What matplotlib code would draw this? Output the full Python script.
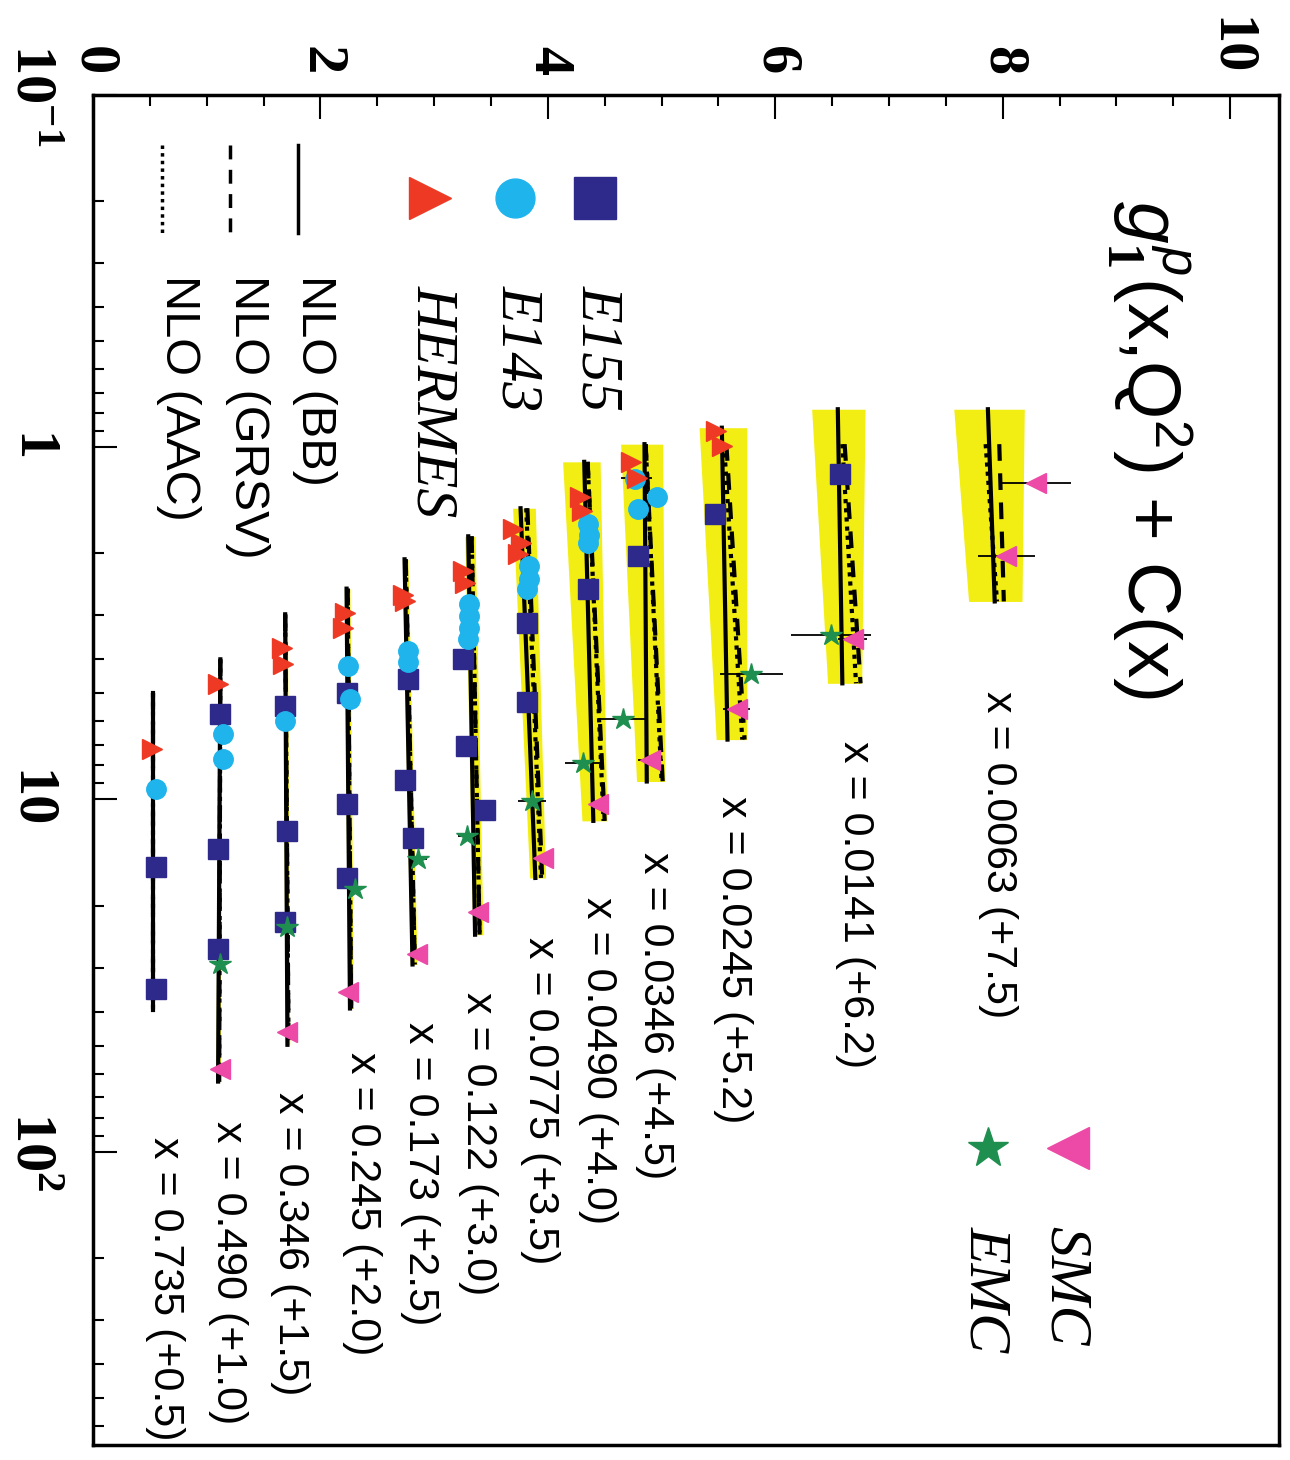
import matplotlib
matplotlib.use("Agg")
import matplotlib.pyplot as plt
from matplotlib.ticker import FixedLocator, LogLocator, MultipleLocator, NullFormatter

plt.rcParams.update({
    "mathtext.fontset": "custom",
    "mathtext.rm": "Liberation Serif:bold",
    "mathtext.bf": "Liberation Serif:bold",
    "mathtext.it": "Liberation Sans:italic",
    "mathtext.sf": "Liberation Sans",
})

SANS = "Liberation Sans"
SERIF = "Liberation Serif"
ROT = -90          # the figure is laid out sideways
YELLOW = "#f2ee14"

# ---------------------------------------------------------------- x bins
x_text = ["0.0063", "0.0141", "0.0245", "0.0346", "0.0490", "0.0775",
          "0.122", "0.173", "0.245", "0.346", "0.490", "0.735"]
offsets = [7.5, 6.2, 5.2, 4.5, 4.0, 3.5, 3.0, 2.5, 2.0, 1.5, 1.0, 0.5]

# ---------------------------------------------------------------- NLO curves (g1 without offset)
bb_q2 = [[0.78, 2.74], [0.78, 4.68], [0.88, 6.76], [0.98, 8.89], [1.10, 11.5], [1.49, 16.7],
         [1.79, 24.2], [2.08, 29.4], [2.52, 39.2], [2.98, 49.7], [4.0, 63.2], [5.0, 39.5]]
bb_g1 = [[0.37, 0.43], [0.35, 0.39], [0.33, 0.38], [0.35, 0.37], [0.32, 0.40], [0.26, 0.39],
         [0.30, 0.36], [0.24, 0.31], [0.23, 0.26], [0.19, 0.21], [0.12, 0.10], [0.03, 0.03]]

nlo_q2 = [[0.98, 2.74], [0.98, 4.68], [0.98, 6.76], [0.98, 8.89], [1.10, 11.5], [1.49, 16.7],
          [1.79, 24.2], [2.08, 29.4], [2.52, 39.2], [2.98, 49.7], [4.0, 63.2], [5.0, 39.5]]
grsv_g1 = [[0.47, 0.51], [0.41, 0.55], [0.37, 0.53], [0.36, 0.51], [0.35, 0.50], [0.32, 0.45],
           [0.33, 0.40], [0.25, 0.33], [0.24, 0.27], [0.19, 0.22], [0.12, 0.11], [0.03, 0.03]]
aac_g1 = [[0.35, 0.45], [0.39, 0.51], [0.35, 0.51], [0.36, 0.50], [0.35, 0.49], [0.31, 0.44],
          [0.33, 0.40], [0.25, 0.33], [0.24, 0.27], [0.19, 0.22], [0.12, 0.11], [0.03, 0.03]]

# uncertainty band of the BB fit
band_lo = [[0.07, 0.20], [0.12, 0.26], [0.13, 0.28], [0.14, 0.28], [0.13, 0.30], [0.19, 0.34],
           [0.27, 0.34], [0.22, 0.29], [0.21, 0.24], [0.17, 0.19], [0.10, 0.08], [0.02, 0.02]]
band_hi = [[0.69, 0.67], [0.59, 0.56], [0.55, 0.55], [0.51, 0.53], [0.46, 0.52], [0.39, 0.48],
           [0.36, 0.43], [0.27, 0.35], [0.26, 0.29], [0.21, 0.23], [0.13, 0.12], [0.04, 0.04]]

# ---------------------------------------------------------------- data (bin index, Q2, g1, error)
e155_bin = [1, 2, 3, 4, 5, 5, 6, 6, 6, 7, 7, 7, 8, 8, 8, 9, 9, 9, 10, 10, 10, 11, 11]
e155_q2 = [1.19, 1.55, 2.04, 2.53, 3.16, 5.27, 4.00, 7.07, 10.7, 4.56, 8.78, 12.9,
           5.00, 10.3, 16.7, 5.44, 12.3, 22.2, 5.70, 13.8, 26.5, 15.5, 34.4]
e155_g1 = [0.37, 0.27, 0.29, 0.35, 0.32, 0.32, 0.25, 0.28, 0.45, 0.27, 0.24, 0.31,
           0.23, 0.23, 0.23, 0.19, 0.21, 0.19, 0.12, 0.10, 0.10, 0.05, 0.05]

e143_bin = [3, 3, 3, 4, 4, 4, 5, 5, 5, 6, 6, 6, 6, 7, 7, 8, 8, 9, 10, 10, 11]
e143_q2 = [1.23, 1.38, 1.50, 1.65, 1.77, 1.87, 2.18, 2.36, 2.53, 2.79, 3.02, 3.27, 3.51,
           3.80, 4.06, 4.19, 5.20, 6.00, 6.53, 7.65, 9.31]
e143_g1 = [0.27, 0.46, 0.29, 0.35, 0.36, 0.35, 0.33, 0.33, 0.32, 0.31, 0.31, 0.31, 0.30,
           0.27, 0.27, 0.24, 0.26, 0.19, 0.14, 0.14, 0.05]
e143_err = [0.0, 0.05, 0.0, 0.0, 0.0, 0.0, 0.0, 0.0, 0.0, 0.0, 0.0, 0.0, 0.0,
            0.0, 0.0, 0.0, 0.0, 0.0, 0.0, 0.0, 0.0]

hermes_bin = [2, 2, 3, 3, 4, 4, 5, 5, 5, 6, 6, 7, 7, 8, 8, 9, 9, 10, 11]
hermes_q2 = [0.90, 0.99, 1.10, 1.22, 1.38, 1.52, 1.71, 1.87, 2.01, 2.25, 2.43, 2.62, 2.74,
             2.96, 3.27, 3.72, 4.13, 4.71, 7.21]
hermes_g1 = [0.28, 0.33, 0.23, 0.28, 0.28, 0.30, 0.19, 0.26, 0.24, 0.25, 0.27, 0.23, 0.24,
             0.22, 0.20, 0.16, 0.17, 0.10, 0.02]
hermes_err = [0.0, 0.0, 0.0, 0.14, 0.0, 0.0, 0.0, 0.0, 0.0, 0.0, 0.0, 0.0, 0.0,
              0.0, 0.0, 0.0, 0.0, 0.0, 0.0]

smc_bin = [0, 0, 1, 2, 3, 4, 5, 6, 7, 8, 9, 10]
smc_q2 = [1.26, 2.04, 3.51, 5.55, 7.70, 10.3, 14.7, 20.8, 27.4, 35.1, 45.6, 58.1]
smc_g1 = [0.79, 0.53, 0.48, 0.46, 0.40, 0.44, 0.46, 0.39, 0.35, 0.24, 0.21, 0.12]
smc_err = [0.31, 0.25, 0.13, 0.12, 0.11, 0.05, 0.04, 0.03, 0.03, 0.02, 0.02, 0.02]

emc_bin = [1, 2, 3, 4, 5, 6, 7, 8, 9, 10]
emc_q2 = [3.42, 4.41, 5.89, 7.9, 10.1, 12.7, 14.8, 17.9, 23.0, 29.4]
emc_g1 = [0.29, 0.59, 0.16, 0.31, 0.36, 0.29, 0.36, 0.30, 0.21, 0.12]
emc_err = [0.35, 0.28, 0.22, 0.16, 0.12, 0.08, 0.08, 0.03, 0.02, 0.02]

# axis tick labels
value_ticks = [0, 2, 4, 6, 8, 10]
q2_ticks = [0.1, 1, 10, 100]
q2_ticklabels = [r"10$^{\mathbf{-1}}$", "1", "10", r"10$^{\mathbf{2}}$"]

# ---------------------------------------------------------------- figure
fig = plt.figure(figsize=(12.9, 14.6), dpi=100)
ax = fig.add_axes([93 / 1290, 15 / 1460, 1186 / 1290, 1350 / 1460])
ax.set_yscale("log")
ax.set_xlim(0, 10.43)
ax.set_ylim(680, 0.1)


def shifted(vals, b):
    return [v + offsets[b] for v in vals]


for b in range(len(offsets)):
    ax.fill_betweenx(bb_q2[b], shifted(band_lo[b], b), shifted(band_hi[b], b),
                     color=YELLOW, lw=0, zorder=1)
    ax.plot(shifted(bb_g1[b], b), bb_q2[b], color="black", lw=3, zorder=3)
    ax.plot(shifted(grsv_g1[b], b), nlo_q2[b], color="black", lw=3,
            ls=(0, (4, 3)), zorder=2)
    ax.plot(shifted(aac_g1[b], b), nlo_q2[b], color="black", lw=3,
            ls=(0, (1, 1.2)), zorder=2)


def data(bins, q2, g1, err, marker, color, ms):
    vals = [g + offsets[b] for b, g in zip(bins, g1)]
    ax.errorbar(vals, q2, xerr=err, fmt=marker, ms=ms, color=color, mec=color,
                ecolor="black", elinewidth=1.3, capsize=0, zorder=4)


data(e155_bin, e155_q2, e155_g1, None, "s", "#2e2a8c", 14)
data(e143_bin, e143_q2, e143_g1, e143_err, "o", "#1fb4ec", 14)
data(hermes_bin, hermes_q2, hermes_g1, hermes_err, ">", "#ee3a24", 14)
data(smc_bin, smc_q2, smc_g1, smc_err, "<", "#ec4aa6", 14)
data(emc_bin, emc_q2, emc_g1, emc_err, "*", "#1f8f4f", 16)

# bin labels
label_pos = [(7.96, 4.93), (6.70, 6.84), (5.63, 9.8), (4.94, 14.1), (4.44, 18.9), (3.93, 24.5),
             (3.39, 35.1), (2.88, 42.7), (2.37, 52.0), (1.73, 67.6), (1.19, 82.0), (0.63, 90.7)]
for (px, py), xs, c in zip(label_pos, x_text, offsets):
    ax.text(px, py, f"x = {xs} (+{c:.1f})", rotation=ROT, ha="center", va="top",
            family=SANS, fontsize=31)

# title
ax.text(0.89, 0.922, r"$g_{1}^{p}$(x,Q$^{\mathsf{2}}$) + C(x)", transform=ax.transAxes,
        rotation=ROT, ha="center", va="top", family=SANS, fontsize=54)

# legend: experiments
leg_marks = [(0.423, "s", "#2e2a8c", 30, "E155"),
             (0.356, "o", "#1fb4ec", 28, "E143"),
             (0.284, ">", "#ee3a24", 30, "HERMES")]
for xa, mk, col, ms, name in leg_marks:
    ax.plot([xa], [0.924], marker=mk, ms=ms, color=col, transform=ax.transAxes, clip_on=False)
    ax.text(xa + 0.002, 0.859, name, transform=ax.transAxes, rotation=ROT, ha="center",
            va="top", family=SERIF, style="italic", fontsize=43)

leg_marks2 = [(0.822, "<", "#ec4aa6", 30, "SMC"),
              (0.755, "*", "#1f8f4f", 30, "EMC")]
for xa, mk, col, ms, name in leg_marks2:
    ax.plot([xa], [0.220], marker=mk, ms=ms, color=col, transform=ax.transAxes)
    ax.text(xa - 0.003, 0.162, name, transform=ax.transAxes, rotation=ROT, ha="center",
            va="top", family=SERIF, style="italic", fontsize=43)

# legend: curves
leg_lines = [(0.1729, "-", "NLO (BB)", 0.187),
             (0.1155, (0, (4, 3)), "NLO (GRSV)", 0.130),
             (0.0582, (0, (1, 1.2)), "NLO (AAC)", 0.072)]
for xa, ls, name, xt in leg_lines:
    ax.plot([xa, xa], [0.963, 0.898], color="black", lw=2.5, ls=ls, transform=ax.transAxes)
    ax.text(xt, 0.867, name, transform=ax.transAxes, rotation=ROT, ha="center", va="top",
            family=SANS, fontsize=35)

# axes, ticks
for sp in ax.spines.values():
    sp.set_linewidth(2.5)

ax.xaxis.set_ticks_position("top")
ax.xaxis.set_major_locator(FixedLocator(value_ticks))
ax.xaxis.set_minor_locator(MultipleLocator(0.5))
ax.set_xticklabels([str(t) for t in value_ticks], rotation=ROT, family=SERIF,
                   fontweight="bold", fontsize=42)
ax.tick_params(axis="x", which="major", direction="in", length=17, width=1.5, pad=14,
               top=True, bottom=False, labeltop=True, labelbottom=False)
ax.tick_params(axis="x", which="minor", direction="in", length=8, width=1.5,
               top=True, bottom=False)

ax.yaxis.set_major_locator(FixedLocator(q2_ticks))
ax.yaxis.set_minor_locator(LogLocator(base=10, subs=range(2, 10)))
ax.yaxis.set_minor_formatter(NullFormatter())
ax.set_yticklabels(q2_ticklabels, rotation=ROT, family=SERIF, fontweight="bold",
                   fontsize=42, ha="left", va="center")
ax.tick_params(axis="y", which="major", direction="in", length=17, width=1.5, pad=64,
               left=True, right=False)
ax.tick_params(axis="y", which="minor", direction="in", length=8, width=1.5,
               left=True, right=False)

fig.savefig("out.png", dpi=100)
